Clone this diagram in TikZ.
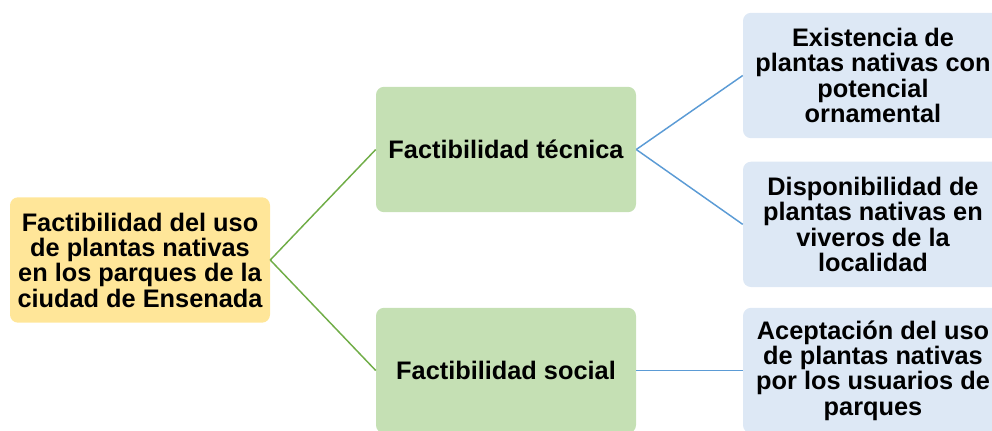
\documentclass[tikz,border=0pt]{standalone}
\usepackage{fontspec}
\setmainfont{Liberation Sans}
\usepackage{tikz}
\usetikzlibrary{positioning}
\definecolor{amarillo}{HTML}{FFE699}
\definecolor{verde}{HTML}{C5E0B4}
\definecolor{azul}{HTML}{DDE8F5}
\definecolor{lineaverde}{HTML}{70AD47}
\definecolor{lineaazul}{HTML}{5B9BD5}
\tikzset{caja/.style={rounded corners=6pt, minimum width=195pt, minimum height=94pt, align=center,
    inner sep=0pt, font=\fontsize{19}{19}\selectfont\bfseries},
  raizcaja/.style={caja, fill=amarillo},
  ramacaja/.style={caja, fill=verde},
  hojacaja/.style={caja, fill=azul},
  gline/.style={draw=lineaverde, line width=1.1pt},
  bline/.style={draw=lineaazul, line width=1.1pt}}

\begin{document}
\begin{tikzpicture}[x=0.75pt, y=-0.75pt]
    \path[use as bounding box, clip] (0,0) rectangle (992,430);
    \node[raizcaja] (raiz) at (140,260) {Factibilidad del uso\\de plantas nativas\\en los parques de la\\ciudad de Ensenada};
    \node[ramacaja] (tec) at (506,149.5) {Factibilidad técnica};
    \node[ramacaja] (soc) at (506,370.5) {Factibilidad social};
    \node[hojacaja] (h-1) at (873,75.5) {Existencia de\\plantas nativas con\\potencial\\ornamental};
    \node[hojacaja, below=17.25pt of h-1] (h-2) {Disponibilidad de\\plantas nativas en\\viveros de la\\localidad};
    \node[hojacaja] (h-3) at (873,370.5) {Aceptación del uso\\de plantas nativas\\por los usuarios de\\parques};
    \draw[gline] (raiz.east) -- (tec.west);
    \draw[gline] (raiz.east) -- (soc.west);

    \draw[bline] (tec.east) -- (h-1.west);
    \draw[bline] (tec.east) -- (h-2.west);
    \draw[bline] (soc.east) -- (h-3.west);
\end{tikzpicture}
\end{document}
